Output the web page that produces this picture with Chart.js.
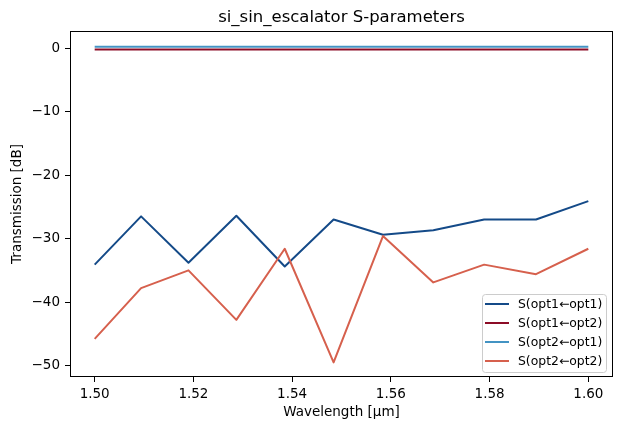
<!DOCTYPE html>
<html>
<head>
<meta charset="utf-8">
<script src="https://cdn.jsdelivr.net/npm/chart.js@4.4.0/dist/chart.umd.min.js"></script>
<style>
  html, body { margin: 0; padding: 0; background: #fff; }
  #wrap { width: 622px; height: 431px; }
</style>
</head>
<body>
<div id="wrap"><canvas id="sparams" width="622" height="431"></canvas></div>
<script>
// wavelength samples (um)
const wavelengths = [1.5, 1.5094, 1.519, 1.5287, 1.5385, 1.5484, 1.5584, 1.5686, 1.5789, 1.5894, 1.6];

// transmission in dB per port pair
const s11 = [-34.1, -26.5, -33.8, -26.4, -34.4, -27.0, -29.4, -28.7, -27.0, -27.0, -24.1];
const s12 = [-0.2, -0.2, -0.2, -0.2, -0.2, -0.2, -0.2, -0.2, -0.2, -0.2, -0.2];
const s21 = [0.2, 0.2, 0.2, 0.2, 0.2, 0.2, 0.2, 0.2, 0.2, 0.2, 0.2];
const s22 = [-45.8, -37.8, -35.0, -42.8, -31.6, -49.5, -29.6, -36.9, -34.1, -35.6, -31.6];

const seriesLabels = ["S(opt1\u2190opt1)", "S(opt1\u2190opt2)", "S(opt2\u2190opt1)", "S(opt2\u2190opt2)"];
const seriesColors = ["#144a88", "#8c0c26", "#4393c3", "#d6604d"];

const xTicks = [1.50, 1.52, 1.54, 1.56, 1.58, 1.60];
const yTicks = [0, -10, -20, -30, -40, -50];

const FONT = "'DejaVu Sans', sans-serif";

function pts(ys) {
    return wavelengths.map((x, i) => ({ x: x, y: ys[i] }));
}

// full box around the axes, like matplotlib spines
const frame = {
    id: "frame",
    afterDatasetsDraw(chart) {
        const a = chart.chartArea;
        const ctx = chart.ctx;
        ctx.save();
        ctx.strokeStyle = "#000";
        ctx.lineWidth = 1;
        ctx.strokeRect(Math.round(a.left) + 0.5, Math.round(a.top) + 0.5,
            Math.round(a.right - a.left) - 1, Math.round(a.bottom - a.top) - 1);
        ctx.restore();
    }
};

// legend in the lower right corner inside the axes
const boxLegend = {
    id: "boxLegend",
    afterDraw(chart) {
        const a = chart.chartArea;
        const ctx = chart.ctx;
        const sets = chart.data.datasets;
        const w = 124, rowH = 19;
        const h = rowH * sets.length + 2;
        const x0 = a.right - 7 - w;
        const y0 = a.bottom - 5 - h;
        ctx.save();
        ctx.beginPath();
        ctx.roundRect(x0 + 0.5, y0 + 0.5, w, h, 3);
        ctx.fillStyle = "rgba(255,255,255,0.8)";
        ctx.fill();
        ctx.strokeStyle = "#cccccc";
        ctx.lineWidth = 1;
        ctx.stroke();
        ctx.font = "12.4px " + FONT;
        ctx.textBaseline = "middle";
        ctx.textAlign = "left";
        sets.forEach((ds, i) => {
            const cy = y0 + 10 + i * rowH;
            ctx.strokeStyle = ds.borderColor;
            ctx.lineWidth = 2;
            ctx.beginPath();
            ctx.moveTo(x0 + 3, cy);
            ctx.lineTo(x0 + 27, cy);
            ctx.stroke();
            ctx.fillStyle = "#000";
            ctx.fillText(ds.label, x0 + 36, cy + 0.5);
        });
        ctx.restore();
    }
};

const ctx = document.getElementById("sparams").getContext("2d");
new Chart(ctx, {
    type: "line",
    data: {
        datasets: [s11, s12, s21, s22].map((ys, i) => ({
            label: seriesLabels[i],
            data: pts(ys),
            borderColor: seriesColors[i],
            backgroundColor: seriesColors[i],
            borderWidth: 2,
            pointRadius: 0,
            tension: 0,
            fill: false,
            borderJoinStyle: "round",
            order: 4 - i
        }))
    },
    options: {
        responsive: false,
        animation: false,
        devicePixelRatio: 1,
        layout: { padding: { left: 0, right: 9, top: 0, bottom: 0 } },
        plugins: {
            legend: { display: false },
            tooltip: { enabled: false },
            title: {
                display: true,
                fullSize: false,
                text: "si_sin_escalator S-parameters",
                color: "#000",
                font: { family: FONT, size: 16.5, weight: "normal" },
                padding: { top: 8, bottom: 3.2 }
            }
        },
        scales: {
            x: {
                type: "linear",
                min: 1.495,
                max: 1.605,
                afterBuildTicks(scale) {
                    scale.ticks = xTicks.map(v => ({ value: v }));
                },
                afterFit(scale) { scale.height = 54; },
                ticks: {
                    color: "#000",
                    font: { family: FONT, size: 13.5 },
                    padding: 4,
                    maxRotation: 0,
                    callback: v => v.toFixed(2)
                },
                grid: {
                    drawOnChartArea: false,
                    drawTicks: true,
                    tickLength: 5,
                    tickColor: "#000"
                },
                border: { display: false },
                title: {
                    display: true,
                    text: "Wavelength [\u03bcm]",
                    color: "#000",
                    font: { family: FONT, size: 13.5 },
                    padding: { top: 0, bottom: 10 }
                }
            },
            y: {
                type: "linear",
                min: -51.8,
                max: 2.7,
                afterBuildTicks(scale) {
                    scale.ticks = yTicks.map(v => ({ value: v }));
                },
                afterFit(scale) { scale.width = 70; },
                ticks: {
                    color: "#000",
                    font: { family: FONT, size: 13.5 },
                    padding: 5,
                    callback: v => (v < 0 ? "\u2212" + Math.abs(v) : String(v))
                },
                grid: {
                    drawOnChartArea: false,
                    drawTicks: true,
                    tickLength: 5,
                    tickColor: "#000"
                },
                border: { display: false },
                title: {
                    display: true,
                    text: "Transmission [dB]",
                    color: "#000",
                    font: { family: FONT, size: 13.5 },
                    padding: { top: 9, bottom: 0 }
                }
            }
        }
    },
    plugins: [frame, boxLegend]
});
</script>
</body>
</html>
